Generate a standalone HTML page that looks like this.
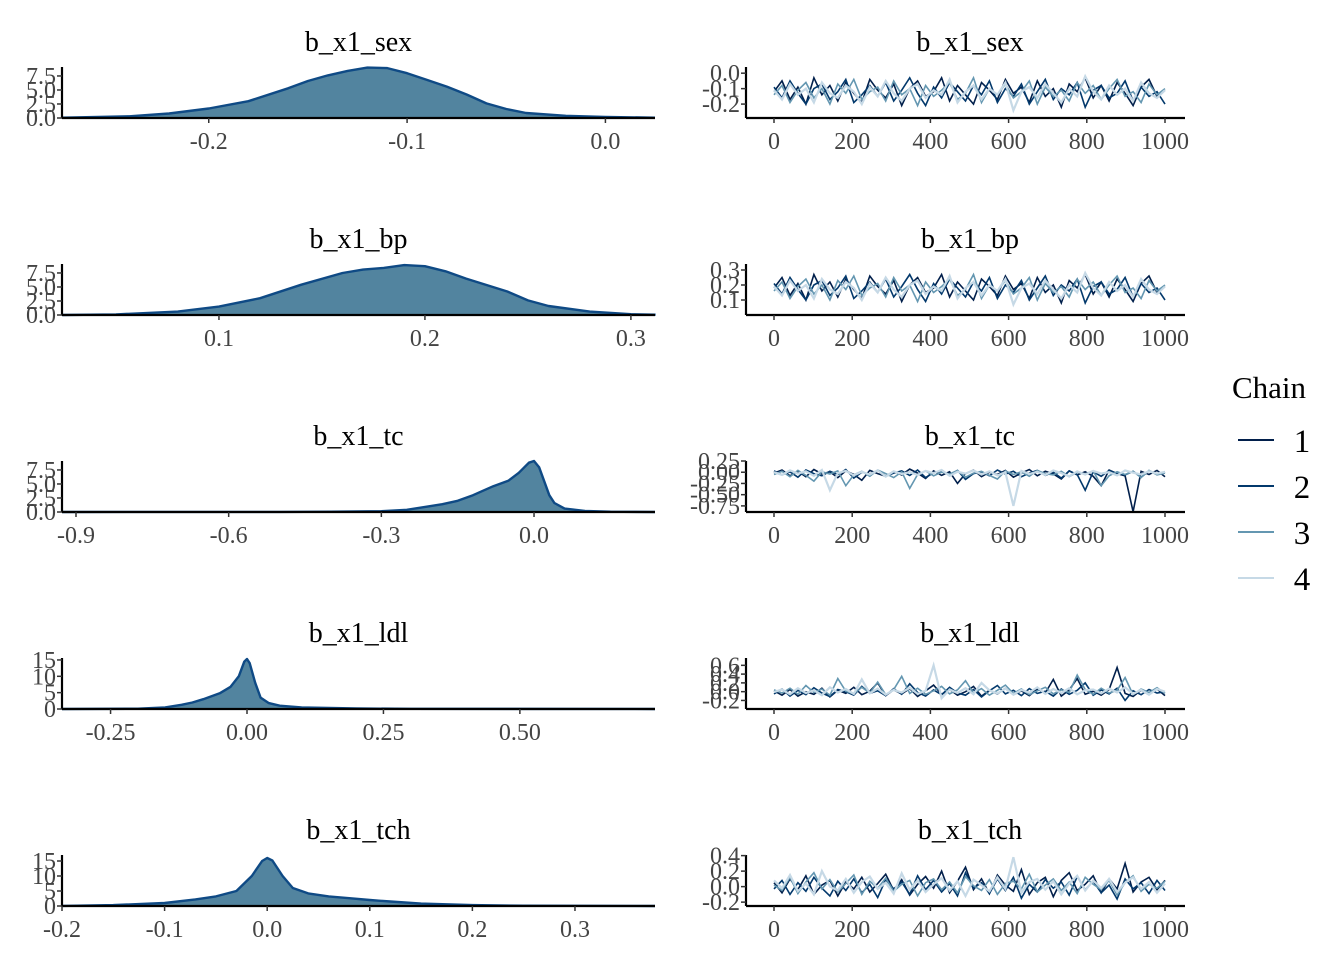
<!DOCTYPE html>
<html><head><meta charset="utf-8"><style>
html,body{margin:0;padding:0;background:#fff;}
svg{display:block;font-family:"Liberation Serif",serif;}
</style></head><body>
<svg id="c" width="1344" height="960"></svg>
<script>
const params=["b_x1_sex","b_x1_bp","b_x1_tc","b_x1_ldl","b_x1_tch"];
const densX_sex=[-0.274,-0.24,-0.22,-0.2,-0.18,-0.16,-0.15,-0.14,-0.13,-0.12,-0.11,-0.1,-0.09,-0.08,-0.07,-0.06,-0.05,-0.04,-0.02,0,0.025];
const densY_sex=[0.05,0.3,0.8,1.7,3.0,5.3,6.6,7.6,8.4,9.0,8.9,8.0,6.8,5.6,4.2,2.6,1.6,0.9,0.4,0.2,0.05];
const densX_bp=[0.024,0.05,0.08,0.1,0.12,0.14,0.16,0.17,0.18,0.19,0.2,0.21,0.22,0.24,0.25,0.26,0.28,0.3,0.312];
const densY_bp=[0,0.1,0.6,1.5,3,5.4,7.5,8.1,8.4,8.9,8.7,7.8,6.5,4.2,2.6,1.6,0.6,0.15,0.05];
const densX_tc=[-0.9275,-0.5,-0.4,-0.3,-0.25,-0.2,-0.18,-0.15,-0.12,-0.1,-0.08,-0.05,-0.03,-0.01,0,0.01,0.02,0.03,0.04,0.06,0.1,0.15,0.2377];
const densY_tc=[0,0.01,0.05,0.15,0.4,1.1,1.4,2.0,3.0,3.8,4.6,5.6,7.0,8.8,9.1,8.0,5.5,3,1.6,0.6,0.2,0.05,0];
const densX_ldl=[-0.339,-0.2,-0.15,-0.12,-0.1,-0.08,-0.05,-0.03,-0.015,-0.005,0,0.005,0.015,0.025,0.04,0.06,0.1,0.2,0.3,0.7476];
const densY_ldl=[0,0.1,0.5,1.3,2.0,3.0,4.8,6.8,10,14.5,15.3,14,8,3.5,1.8,1.0,0.5,0.15,0.05,0];
const densX_tch=[-0.2,-0.15,-0.1,-0.07,-0.05,-0.03,-0.015,-0.005,0,0.005,0.015,0.025,0.04,0.06,0.08,0.1,0.12,0.15,0.2,0.25,0.378];
const densY_tch=[0.05,0.3,1.0,2.2,3.2,5,10,15,16,15.2,10,6,4.2,3.2,2.6,2.0,1.5,0.8,0.3,0.1,0];
const densXs=[densX_sex,densX_bp,densX_tc,densX_ldl,densX_tch];
const densYs=[densY_sex,densY_bp,densY_tc,densY_ldl,densY_tch];
const densXDomain=[[-0.274,0.025],[0.0238,0.3117],[-0.9275,0.2377],[-0.339,0.7476],[-0.2,0.378]];
const densYMax=[9.1,9.1,9.1,15.6,17];
const densXTicks=[["-0.2","-0.1","0.0"],["0.1","0.2","0.3"],["-0.9","-0.6","-0.3","0.0"],["-0.25","0.00","0.25","0.50"],["-0.2","-0.1","0.0","0.1","0.2","0.3"]];
const densYTicks=[["0.0","2.5","5.0","7.5"],["0.0","2.5","5.0","7.5"],["0.0","2.5","5.0","7.5"],["0","5","10","15"],["0","5","10","15"]];
const traceYDomain=[[-0.29,0.04],[0.0,0.34],[-0.886,0.25],[-0.395,0.767],[-0.25,0.408]];
const traceYTicks=[["0.0","-0.1","-0.2"],["0.3","0.2","0.1"],["0.25","0.00","-0.25","-0.50","-0.75"],["0.6","0.4","0.2","0.0","-0.2"],["0.4","0.2","0.0","-0.2"]];
const traceXTicks=["0","200","400","600","800","1000"];
const chains=["1","2","3","4"];
const sex_c1=[-0.12,-0.05,-0.17,-0.09,-0.2,-0.03,-0.14,-0.08,-0.18,-0.06,-0.13,-0.19,-0.04,-0.11,-0.16,-0.07,-0.21,-0.1,-0.05,-0.15,-0.12,-0.03,-0.18,-0.08,-0.14,-0.2,-0.06,-0.11,-0.17,-0.04,-0.13,-0.09,-0.19,-0.05,-0.15,-0.1,-0.22,-0.07,-0.12,-0.03,-0.16,-0.08,-0.18,-0.06,-0.13,-0.21,-0.09,-0.04,-0.15,-0.11];
const sex_c2=[-0.09,-0.16,-0.05,-0.13,-0.2,-0.1,-0.07,-0.17,-0.12,-0.04,-0.19,-0.14,-0.08,-0.15,-0.06,-0.18,-0.11,-0.03,-0.13,-0.21,-0.09,-0.16,-0.06,-0.12,-0.18,-0.08,-0.14,-0.05,-0.19,-0.1,-0.15,-0.07,-0.2,-0.12,-0.04,-0.17,-0.1,-0.14,-0.06,-0.22,-0.11,-0.08,-0.16,-0.13,-0.05,-0.18,-0.09,-0.15,-0.12,-0.2];
const sex_c3=[-0.14,-0.08,-0.19,-0.11,-0.06,-0.16,-0.1,-0.2,-0.07,-0.13,-0.04,-0.17,-0.12,-0.09,-0.18,-0.05,-0.14,-0.1,-0.21,-0.08,-0.15,-0.11,-0.06,-0.17,-0.13,-0.03,-0.19,-0.1,-0.14,-0.07,-0.16,-0.12,-0.05,-0.2,-0.09,-0.15,-0.11,-0.18,-0.06,-0.13,-0.08,-0.17,-0.1,-0.04,-0.15,-0.12,-0.19,-0.07,-0.14,-0.1];
const sex_c4=[-0.11,-0.17,-0.07,-0.14,-0.1,-0.19,-0.06,-0.13,-0.16,-0.08,-0.12,-0.2,-0.09,-0.15,-0.05,-0.13,-0.18,-0.1,-0.07,-0.16,-0.11,-0.14,-0.04,-0.19,-0.12,-0.08,-0.17,-0.1,-0.14,-0.06,-0.24,-0.12,-0.09,-0.16,-0.07,-0.13,-0.19,-0.1,-0.15,-0.02,-0.12,-0.17,-0.08,-0.14,-0.1,-0.18,-0.06,-0.13,-0.16,-0.11];
const bp_c1=[0.18,0.25,0.13,0.21,0.1,0.27,0.16,0.22,0.12,0.24,0.17,0.11,0.26,0.19,0.14,0.23,0.09,0.2,0.25,0.15,0.18,0.27,0.12,0.22,0.16,0.1,0.24,0.19,0.13,0.26,0.17,0.21,0.11,0.25,0.15,0.2,0.08,0.23,0.18,0.27,0.14,0.22,0.12,0.24,0.17,0.09,0.21,0.26,0.15,0.19];
const bp_c2=[0.21,0.14,0.25,0.17,0.1,0.2,0.23,0.13,0.18,0.26,0.11,0.16,0.22,0.15,0.24,0.12,0.19,0.27,0.17,0.09,0.21,0.14,0.24,0.18,0.12,0.22,0.16,0.25,0.11,0.2,0.15,0.23,0.1,0.18,0.26,0.13,0.2,0.16,0.24,0.08,0.19,0.22,0.14,0.17,0.25,0.12,0.21,0.15,0.18,0.1];
const bp_c3=[0.16,0.22,0.11,0.19,0.24,0.14,0.2,0.1,0.23,0.17,0.26,0.13,0.18,0.21,0.12,0.25,0.16,0.2,0.09,0.22,0.15,0.19,0.24,0.13,0.17,0.27,0.11,0.2,0.16,0.23,0.14,0.18,0.25,0.1,0.21,0.15,0.19,0.12,0.24,0.17,0.22,0.13,0.2,0.26,0.15,0.18,0.11,0.23,0.16,0.2];
const bp_c4=[0.19,0.13,0.23,0.16,0.2,0.11,0.24,0.17,0.14,0.22,0.18,0.1,0.21,0.15,0.25,0.17,0.12,0.2,0.23,0.14,0.19,0.16,0.26,0.11,0.18,0.22,0.13,0.2,0.16,0.24,0.07,0.18,0.21,0.14,0.23,0.17,0.11,0.2,0.15,0.28,0.18,0.13,0.22,0.16,0.2,0.12,0.24,0.17,0.14,0.19];
const tc_c1=[-0.02,0.05,-0.08,0.02,-0.1,0.06,-0.04,0.01,-0.12,0.03,-0.05,-0.18,0.04,-0.03,-0.09,0.02,-0.06,0.07,-0.02,-0.14,0.03,-0.07,0.01,-0.25,-0.03,0.05,-0.1,0.0,-0.05,0.04,-0.11,-0.02,0.06,-0.08,0.02,-0.04,-0.15,0.03,-0.06,0.01,-0.09,-0.3,0.05,-0.03,-0.08,-0.88,0.02,-0.05,0.04,-0.1];
const tc_c2=[0.03,-0.06,0.01,-0.11,0.05,-0.03,-0.08,0.02,-0.05,0.06,-0.13,0.0,-0.04,0.04,-0.09,-0.02,0.03,-0.07,0.05,-0.12,-0.01,0.02,-0.06,0.04,-0.16,-0.03,0.01,-0.08,0.05,-0.04,0.02,-0.1,-0.02,0.04,-0.07,0.0,-0.13,0.03,-0.05,-0.4,0.01,-0.09,0.04,-0.03,-0.06,0.02,-0.11,0.03,-0.04,0.01];
const tc_c3=[-0.05,0.02,-0.1,0.04,-0.07,-0.2,0.01,-0.04,0.03,-0.3,-0.06,0.02,-0.09,0.05,-0.03,-0.12,0.01,-0.36,-0.05,0.03,-0.08,0.0,-0.04,0.04,-0.11,-0.02,0.02,-0.07,-0.15,0.03,-0.05,0.01,-0.09,0.04,-0.03,-0.06,0.02,-0.1,0.0,-0.04,0.03,-0.3,-0.08,0.01,-0.05,0.02,-0.12,0.04,-0.06,-0.02];
const tc_c4=[0.0,-0.06,0.04,-0.03,0.02,-0.08,0.05,-0.4,-0.02,0.03,-0.07,0.01,-0.05,0.04,-0.1,0.02,-0.04,0.0,-0.06,0.03,-0.02,0.05,-0.08,0.01,-0.03,0.04,-0.05,0.02,-0.07,0.0,-0.75,0.03,-0.04,0.01,-0.06,0.04,-0.02,-0.09,0.02,-0.05,0.03,-0.03,0.0,-0.07,0.04,-0.01,-0.05,0.02,-0.03,0.01];
const ldl_c1=[0.02,-0.08,0.05,-0.1,0.0,-0.06,0.08,-0.12,0.03,-0.04,0.1,-0.07,0.01,0.2,-0.09,0.04,-0.05,0.07,-0.11,0.02,0.15,-0.06,0.05,-0.08,0.0,0.12,-0.1,0.03,-0.05,0.08,-0.07,0.02,-0.09,0.06,-0.03,0.28,-0.1,0.04,0.3,-0.06,0.01,-0.08,0.05,0.55,-0.04,-0.11,0.03,-0.07,0.06,-0.09];
const ldl_c2=[-0.05,0.06,-0.1,0.03,-0.07,0.09,-0.03,-0.11,0.05,0.0,-0.08,0.12,-0.04,0.02,-0.09,0.07,-0.06,0.18,-0.02,-0.1,0.04,-0.07,0.1,-0.03,-0.08,0.05,-0.12,0.02,0.14,-0.05,0.03,-0.09,0.07,-0.04,0.01,-0.1,0.06,-0.06,0.03,0.2,-0.08,0.04,-0.05,0.08,-0.2,0.02,-0.07,0.05,-0.03,0.0];
const ldl_c3=[0.04,-0.03,0.08,-0.06,0.14,-0.02,0.06,-0.08,0.3,0.01,-0.05,0.1,-0.03,0.22,-0.07,0.05,0.35,-0.04,0.08,-0.06,0.02,0.12,-0.05,0.04,0.25,-0.03,0.07,-0.08,0.03,0.15,-0.04,0.06,-0.07,0.02,0.1,-0.05,0.04,-0.02,0.38,0.05,-0.06,0.08,-0.03,0.03,0.32,-0.07,0.06,-0.02,0.09,-0.04];
const ldl_c4=[-0.01,0.05,-0.06,0.08,-0.03,0.03,-0.08,0.1,-0.02,0.06,-0.05,0.28,-0.04,0.07,-0.07,0.04,-0.02,0.09,-0.05,0.02,0.6,-0.15,0.05,-0.03,0.08,-0.06,0.2,0.03,-0.04,0.07,-0.07,0.04,-0.02,0.1,-0.05,0.06,-0.03,0.08,-0.06,0.03,0.05,-0.04,0.07,-0.02,0.1,-0.05,0.04,-0.07,0.06,0.0];
const tch_c1=[0.05,-0.08,0.1,-0.04,0.14,-0.1,0.02,0.08,-0.12,0.06,-0.03,0.12,-0.07,0.04,0.16,-0.05,0.09,-0.11,0.03,0.13,-0.02,0.2,-0.08,0.07,0.25,-0.04,0.1,-0.09,0.15,0.02,-0.06,0.22,-0.1,0.05,0.12,-0.13,0.08,0.18,-0.05,0.03,0.14,-0.08,0.1,-0.03,0.3,-0.07,0.06,0.12,-0.04,0.08];
const tch_c2=[-0.03,0.08,-0.1,0.05,-0.06,0.12,-0.02,-0.12,0.07,-0.05,0.1,-0.08,0.03,-0.14,0.09,-0.03,0.06,-0.1,0.14,-0.04,0.08,-0.07,0.04,-0.12,0.18,-0.02,0.05,-0.09,0.1,-0.05,0.12,-0.15,0.03,-0.07,0.09,-0.02,0.06,-0.11,0.13,-0.04,0.07,-0.08,0.02,-0.16,0.1,-0.03,0.05,-0.09,0.08,-0.05];
const tch_c3=[0.02,-0.05,0.12,-0.09,0.06,0.18,-0.03,0.09,-0.07,0.04,0.15,-0.1,0.07,-0.02,0.11,-0.06,0.03,0.08,-0.12,0.05,0.1,-0.04,0.06,-0.08,0.13,0.01,-0.05,0.09,-0.1,0.04,0.07,-0.03,0.16,-0.07,0.02,0.1,-0.05,0.06,-0.09,0.12,0.03,-0.04,0.08,-0.11,0.05,0.14,-0.06,0.03,-0.02,0.07];
const tch_c4=[0.08,-0.02,0.15,-0.06,0.04,-0.1,0.2,0.0,-0.05,0.1,-0.08,0.06,0.13,-0.03,0.05,-0.09,0.17,-0.04,0.08,-0.07,0.03,0.11,-0.05,0.07,-0.12,0.09,0.02,-0.06,0.12,-0.03,0.38,-0.08,0.06,0.1,-0.04,0.07,-0.1,0.04,0.14,-0.05,0.08,-0.02,0.1,-0.07,0.05,0.12,-0.03,0.06,-0.08,0.04];
const traces=[[sex_c1,sex_c2,sex_c3,sex_c4],[bp_c1,bp_c2,bp_c3,bp_c4],[tc_c1,tc_c2,tc_c3,tc_c4],[ldl_c1,ldl_c2,ldl_c3,ldl_c4],[tch_c1,tch_c2,tch_c3,tch_c4]];

const NS="http://www.w3.org/2000/svg";
const svg=document.getElementById('c');
const chainColors=["#011f4b","#03396c","#6497b1","#c6d9e6"];
function mk(tag,attrs,parent,text){const e=document.createElementNS(NS,tag);for(const k in attrs)e.setAttribute(k,attrs[k]);if(text!==undefined)e.textContent=text;(parent||svg).appendChild(e);return e;}
const bottoms=[118,315,512,709,906];
const LX0=62,LX1=655,RX0=774,RX1=1165;
const TICKFS=24,TITLEFS=28;
params.forEach((p,i)=>{
  const b=bottoms[i],top=b-51;
  const g=mk('g',{});
  
  
  const [d0,d1]=densXDomain[i];
  const xs=v=>LX0+(v-d0)/(d1-d0)*(LX1-LX0);
  const ys=v=>b-v/densYMax[i]*(b-top);
  const t=mk('text',{x:(LX0+LX1)/2,y:b-67,'text-anchor':'middle','font-size':TITLEFS,fill:'#000'},g,p);
  
  
  let pts=densXs[i].map((v,j)=>xs(v).toFixed(1)+','+ys(densYs[i][j]).toFixed(1));
  const area=mk('path',{d:'M'+xs(densXs[i][0])+','+b+' L'+pts.join(' L')+' L'+xs(densXs[i][densXs[i].length-1])+','+b+' Z',fill:'#52849f',stroke:'none'},g);
  
  
  const ln=mk('path',{d:'M'+pts.join(' L'),fill:'none',stroke:'#0f4a85','stroke-width':2.4,'stroke-linejoin':'round'},g);
  
  
  mk('line',{x1:LX0,y1:b,x2:LX1,y2:b,stroke:'#000','stroke-width':2.2},g);
  mk('line',{x1:LX0,y1:top,x2:LX0,y2:b,stroke:'#000','stroke-width':2.2},g);
  densXTicks[i].forEach(s=>{const x=xs(parseFloat(s));
    mk('line',{x1:x,y1:b,x2:x,y2:b+5,stroke:'#333','stroke-width':1.5},g);
    const tt=mk('text',{x:x,y:b+31,'text-anchor':'middle','font-size':TICKFS,fill:'#444'},g,s);
    
    });
  densYTicks[i].forEach(s=>{const y=ys(parseFloat(s));
    mk('line',{x1:LX0-5,y1:y,x2:LX0,y2:y,stroke:'#333','stroke-width':1.5},g);
    const tt=mk('text',{x:LX0-6,y:y+8,'text-anchor':'end','font-size':TICKFS,fill:'#444'},g,s);
    
    });
  const g2=mk('g',{});
  
  
  const [t0,t1]=traceYDomain[i];
  const tx=v=>RX0+v/1000*(RX1-RX0);
  const ty=v=>b-(v-t0)/(t1-t0)*(b-top);
  const t2=mk('text',{x:970,y:b-67,'text-anchor':'middle','font-size':TITLEFS,fill:'#000'},g2,p);
  
  
  traces[i].forEach((arr,c)=>{
    const n=arr.length;
    const d='M'+arr.map((v,j)=>tx(j*1000/(n-1)).toFixed(1)+','+ty(v).toFixed(1)).join(' L');
    const pl=mk('path',{d:d,fill:'none',stroke:chainColors[c],'stroke-width':c===3?2.2:1.6},g2);
    
    
  });
  mk('line',{x1:746,y1:b,x2:1185,y2:b,stroke:'#000','stroke-width':2.2},g2);
  mk('line',{x1:746,y1:top,x2:746,y2:b,stroke:'#000','stroke-width':2.2},g2);
  traceXTicks.forEach(s=>{const x=tx(parseFloat(s));
    mk('line',{x1:x,y1:b,x2:x,y2:b+5,stroke:'#333','stroke-width':1.5},g2);
    const tt=mk('text',{x:x,y:b+31,'text-anchor':'middle','font-size':TICKFS,fill:'#444'},g2,s);
    
    });
  traceYTicks[i].forEach(s=>{const y=ty(parseFloat(s));
    mk('line',{x1:741,y1:y,x2:746,y2:y,stroke:'#333','stroke-width':1.5},g2);
    const tt=mk('text',{x:740,y:y+8,'text-anchor':'end','font-size':TICKFS,fill:'#444'},g2,s);
    
    });
});
const lg=mk('g',{});


const lt=mk('text',{x:1232,y:398,'font-size':31,fill:'#000'},lg,'Chain');


chains.forEach((c,k)=>{const y=440+k*46;
  const e=mk('g',{},lg);
  
  
  mk('line',{x1:1238,y1:y,x2:1274,y2:y,stroke:chainColors[k],'stroke-width':2},e);
  mk('text',{x:1302,y:y+12,'text-anchor':'middle','font-size':33,fill:'#000'},e,c);
});
</script>
</body></html>
